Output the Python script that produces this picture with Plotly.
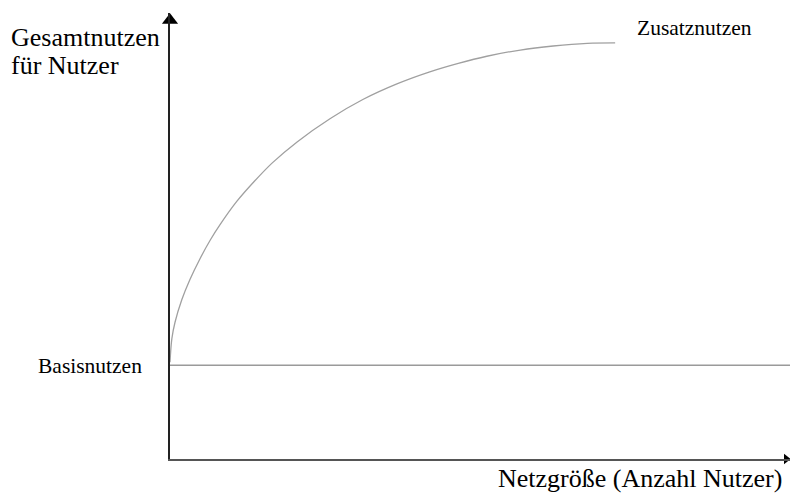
import plotly.graph_objects as go

# Data (arbitrary units, 0..100 on both axes)
netz_x = [0, 0.3, 0.8, 1.9, 3.2, 4.8, 6.5, 8.1, 10.8, 13.5, 16.5, 20.5, 25.8,
          31.1, 36.6, 41.9, 46.5, 51.1, 56.5, 61.8, 67.3, 71.8]
nutzen_y = [21.7, 27.0, 30.6, 35.7, 40.2, 44.8, 49.1, 52.6, 57.8, 62.1, 66.4,
            71.1, 76.3, 80.6, 84.1, 86.8, 88.7, 90.3, 91.7, 92.6, 93.2, 93.3]
basis_x = [0, 100]
basis_y = [21.0, 21.0]

y_label_lines = ["Gesamtnutzen", "für Nutzer"]
x_label = "Netzgröße (Anzahl Nutzer)"
curve_label = "Zusatznutzen"
basis_label = "Basisnutzen"

FONT = "Liberation Serif, Times New Roman, serif"

fig = go.Figure()
fig.add_trace(go.Scatter(x=basis_x, y=basis_y, mode="lines",
                         line=dict(color="#9a9a9a", width=1.5),
                         hoverinfo="skip", showlegend=False))
fig.add_trace(go.Scatter(x=netz_x, y=nutzen_y, mode="lines",
                         line=dict(color="#a0a0a0", width=1.3, shape="spline", smoothing=1),
                         hoverinfo="skip", showlegend=False))
# arrow heads on the axes
fig.add_trace(go.Scatter(x=[0], y=[98.4], mode="markers",
                         marker=dict(symbol="triangle-up", size=14, color="black"),
                         cliponaxis=False, hoverinfo="skip", showlegend=False))
fig.add_trace(go.Scatter(x=[99.4], y=[0], mode="markers",
                         marker=dict(symbol="triangle-right", size=9, color="black"),
                         cliponaxis=False, hoverinfo="skip", showlegend=False))

def ann(text, x, y, xanchor, size):
    fig.add_annotation(text=text, x=x, y=y, xref="paper", yref="paper",
                       xanchor=xanchor, yanchor="middle", showarrow=False,
                       font=dict(family=FONT, size=size, color="black"))

ann(y_label_lines[0], (9 - 170) / 620, (459 - 37) / 446, "left", 26)
ann(y_label_lines[1], (9 - 170) / 620, (459 - 65) / 446, "left", 26)
ann(curve_label, (635 - 170) / 620, (459 - 28) / 446, "left", 21.5)
ann(basis_label, (36 - 170) / 620, (459 - 366) / 446, "left", 21.5)
ann(x_label, (784 - 170) / 620, (459 - 479) / 446, "right", 26)

fig.update_layout(
    width=790, height=495,
    margin=dict(l=170, r=0, t=13, b=36),
    paper_bgcolor="white", plot_bgcolor="white",
    xaxis=dict(range=[0, 100], showline=True, linecolor="#555555", linewidth=2,
               showgrid=False, zeroline=False, showticklabels=False, ticks=""),
    yaxis=dict(range=[0, 100], showline=True, linecolor="#222222", linewidth=1.5,
               showgrid=False, zeroline=False, showticklabels=False, ticks=""),
)

fig.write_html("out.html", config={"displayModeBar": False},
               post_script="document.body.style.margin='0';document.body.style.padding='0';")
